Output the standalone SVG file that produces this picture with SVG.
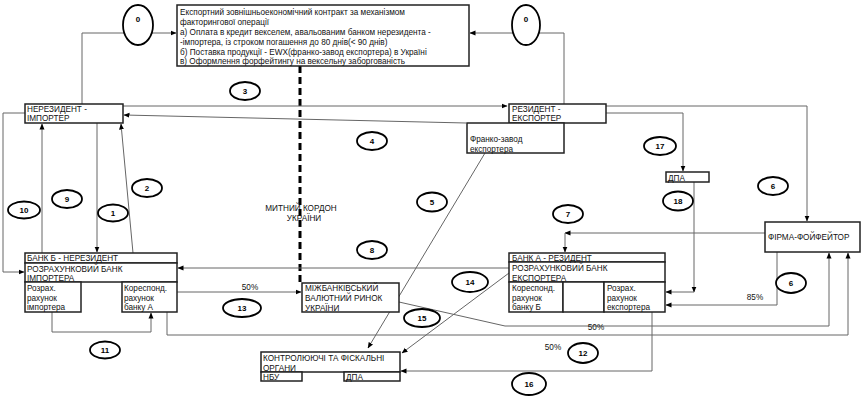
<svg xmlns="http://www.w3.org/2000/svg" width="865" height="403" viewBox="0 0 865 403">
<defs>
<marker id="a" markerWidth="6" markerHeight="6" refX="5.5" refY="3" orient="auto" markerUnits="userSpaceOnUse"><path d="M0,0.5 L6,3 L0,5.5 z" fill="#000"/></marker>
<style>
.bx{fill:#fff;stroke:#222;stroke-width:1.5}
.t{font-family:"Liberation Sans",Arial,sans-serif;font-size:8.2px;fill:#111}
.tc{font-family:"Liberation Sans",Arial,sans-serif;font-size:8.2px;fill:#111;text-anchor:middle}
.c{fill:#fff;stroke:#000;stroke-width:1.8}
.n{font-family:"Liberation Sans",Arial,sans-serif;font-size:8px;font-weight:bold;fill:#000;text-anchor:middle}
.l{fill:none;stroke:#666;stroke-width:1}
.la{fill:none;stroke:#666;stroke-width:1;marker-end:url(#a)}
</style>
</defs>
<rect width="865" height="403" fill="#fff"/>

<g id="connectors">
<path class="la" d="M82,104 V33 H176"/>
<path class="la" d="M564,104 V33 H470"/>
<path d="M300,66 V283" fill="none" stroke="#000" stroke-width="3" stroke-dasharray="7 4"/>
<path class="la" d="M123,106 H507"/>
<path class="la" d="M466,123 L124,115"/>
<path class="la" d="M97,123 V252"/>
<path class="la" d="M133,253 L121,124"/>
<path class="la" d="M42,253 V124"/>
<path class="la" d="M25,113 H3 V272 H24"/>
<path class="la" d="M52,312 V332 H151 V313"/>
<path class="la" d="M167,312 V335 H848 V253"/>
<path class="la" d="M399,302 L505,326 H829 V253"/>
<path class="la" d="M177,292 H301"/>
<path class="la" d="M509,268 H178"/>
<path class="la" d="M509,273 L402,353"/>
<path class="la" d="M485,153 L368,348"/>
<path class="la" d="M652,312 V371 H401"/>
<path class="la" d="M606,106 H807 V221"/>
<path class="la" d="M606,113 H683 V171"/>
<path class="la" d="M694,182 V292"/>
<path class="la" d="M694,292 H666"/>
<path class="la" d="M777,252 V305 H666"/>
<path class="la" d="M765,233 H565"/>
<path class="la" d="M565,233 V252"/>
<text class="tc" x="250" y="290">50%</text>
<text class="tc" x="596" y="330">50%</text>
<text class="tc" x="553" y="350">50%</text>
<text class="tc" x="755" y="300">85%</text>
<text class="tc" x="301" y="211">МИТНИЙ  КОРДОН</text>
<text class="tc" x="304" y="221">УКРАЇНИ</text>
</g>

<g id="n-contract">
<rect class="bx" x="177" y="5" width="292" height="61"/>
<text class="t" x="180" y="15">Експортний  зовнішньоекономічний контракт за механізмом</text>
<text class="t" x="180" y="25">факторингової операції</text>
<text class="t" x="180" y="35">а) Оплата в кредит векселем, авальованим банком нерезидента -</text>
<text class="t" x="180" y="45">-імпортера, із строком погашення до 80 днів(&lt; 90 днів)</text>
<text class="t" x="180" y="55">б) Поставка продукції - EWX(франко-завод експортера) в Україні</text>
<text class="t" x="180" y="64">в) Оформлення форфейтингу на вексельну заборгованість</text>
</g>

<g id="n-importer">
<rect class="bx" x="25" y="104" width="98" height="19"/>
<text class="t" x="27" y="112">НЕРЕЗИДЕНТ -</text>
<text class="t" x="27" y="121">ІМПОРТЕР</text>
</g>

<g id="n-exporter">
<rect class="bx" x="509" y="104" width="97" height="19"/>
<text class="t" x="512" y="112">РЕЗИДЕНТ -</text>
<text class="t" x="512" y="121">ЕКСПОРТЕР</text>
</g>

<g id="n-franco">
<rect class="bx" x="467" y="123" width="97" height="30"/>
<text class="t" x="470" y="142">Франко-завод</text>
<text class="t" x="470" y="152">експортера</text>
</g>

<g id="n-dpa">
<rect class="bx" x="666" y="172" width="43" height="10"/>
<text class="t" x="668" y="180.5">ДПА</text>
</g>

<g id="n-forfaiter">
<rect class="bx" x="765" y="222" width="95" height="30"/>
<text class="t" x="768" y="240">ФІРМА-ФОЙФЕЙТОР</text>
</g>

<g id="n-bank-b">
<rect class="bx" x="25" y="253" width="152" height="10"/>
<rect class="bx" x="25" y="263" width="152" height="19"/>
<rect class="bx" x="25" y="282" width="56" height="30"/>
<rect class="bx" x="122" y="282" width="55" height="30"/>
<text class="t" x="27" y="261">БАНК Б - НЕРЕЗИДЕНТ</text>
<text class="t" x="27" y="271.5">РОЗРАХУНКОВИЙ БАНК</text>
<text class="t" x="27" y="280.5">ІМПОРТЕРА</text>
<text class="t" x="27" y="291">Розрах.</text>
<text class="t" x="27" y="300.5">рахунок</text>
<text class="t" x="27" y="310">імпортера</text>
<text class="t" x="124" y="291">Кореспонд.</text>
<text class="t" x="124" y="300.5">рахунок</text>
<text class="t" x="124" y="310">банку А</text>
</g>

<g id="n-bank-a">
<rect class="bx" x="509" y="253" width="156" height="9"/>
<rect class="bx" x="509" y="262" width="156" height="20"/>
<rect class="bx" x="509" y="282" width="54" height="30"/>
<rect class="bx" x="563" y="282" width="41" height="30"/>
<rect class="bx" x="604" y="282" width="61" height="30"/>
<text class="t" x="512" y="260.5">БАНК А - РЕЗИДЕНТ</text>
<text class="t" x="512" y="271">РОЗРАХУНКОВИЙ БАНК</text>
<text class="t" x="512" y="280.5">ЕКСПОРТЕРА</text>
<text class="t" x="512" y="291">Кореспонд.</text>
<text class="t" x="512" y="300.5">рахунок</text>
<text class="t" x="512" y="310">банку Б</text>
<text class="t" x="607" y="291">Розрах.</text>
<text class="t" x="607" y="300.5">рахунок</text>
<text class="t" x="607" y="310">експортера</text>
</g>

<g id="n-market">
<rect class="bx" x="302" y="283" width="97" height="29"/>
<text class="t" x="305" y="291">МІЖБАНКІВСЬКИЙ</text>
<text class="t" x="305" y="301">ВАЛЮТНИЙ РИНОК</text>
<text class="t" x="305" y="310.5">УКРАЇНИ</text>
</g>

<g id="n-control">
<rect class="bx" x="261" y="352" width="139" height="20"/>
<rect class="bx" x="261" y="372" width="41" height="9"/>
<rect class="bx" x="344" y="372" width="56" height="9"/>
<text class="t" x="263" y="361">КОНТРОЛЮЮЧІ ТА ФІСКАЛЬНІ</text>
<text class="t" x="263" y="370.5">ОРГАНИ</text>
<text class="t" x="263" y="380">НБУ</text>
<text class="t" x="346" y="380">ДПА</text>
</g>

<g id="labels">
<ellipse class="c" cx="138" cy="25" rx="15" ry="20"/><text class="n" x="138" y="22">0</text>
<ellipse class="c" cx="526" cy="25" rx="14" ry="20"/><text class="n" x="526" y="22">0</text>
<ellipse class="c" cx="245" cy="91" rx="15" ry="9"/><text class="n" x="245" y="94">3</text>
<ellipse class="c" cx="372" cy="141" rx="15" ry="9"/><text class="n" x="372" y="144">4</text>
<ellipse class="c" cx="432" cy="202" rx="15" ry="9.5"/><text class="n" x="432" y="205">5</text>
<ellipse class="c" cx="372" cy="250" rx="15" ry="9"/><text class="n" x="372" y="253">8</text>
<ellipse class="c" cx="147" cy="188" rx="15" ry="9"/><text class="n" x="147" y="191">2</text>
<ellipse class="c" cx="67" cy="199" rx="15" ry="9"/><text class="n" x="67" y="202">9</text>
<ellipse class="c" cx="24" cy="210" rx="16" ry="8.5"/><text class="n" x="24" y="213">10</text>
<ellipse class="c" cx="113" cy="213" rx="15" ry="8.5"/><text class="n" x="113" y="216">1</text>
<ellipse class="c" cx="105" cy="350" rx="15" ry="8.5"/><text class="n" x="105" y="353">11</text>
<ellipse class="c" cx="242" cy="308" rx="19" ry="9"/><text class="n" x="242" y="311">13</text>
<ellipse class="c" cx="470" cy="282" rx="18" ry="10"/><text class="n" x="470" y="285">14</text>
<ellipse class="c" cx="422" cy="318" rx="18" ry="9"/><text class="n" x="422" y="321">15</text>
<ellipse class="c" cx="583" cy="353" rx="15" ry="10"/><text class="n" x="583" y="356">12</text>
<ellipse class="c" cx="529" cy="384" rx="17" ry="11"/><text class="n" x="529" y="387">16</text>
<ellipse class="c" cx="660" cy="146" rx="16" ry="9"/><text class="n" x="660" y="149">17</text>
<ellipse class="c" cx="678" cy="201" rx="15" ry="9.5"/><text class="n" x="678" y="204">18</text>
<ellipse class="c" cx="568" cy="214" rx="15" ry="9"/><text class="n" x="568" y="217">7</text>
<ellipse class="c" cx="773" cy="186" rx="15" ry="9"/><text class="n" x="773" y="189">6</text>
<ellipse class="c" cx="791" cy="283" rx="15" ry="10"/><text class="n" x="791" y="286">6</text>
</g>
</svg>
